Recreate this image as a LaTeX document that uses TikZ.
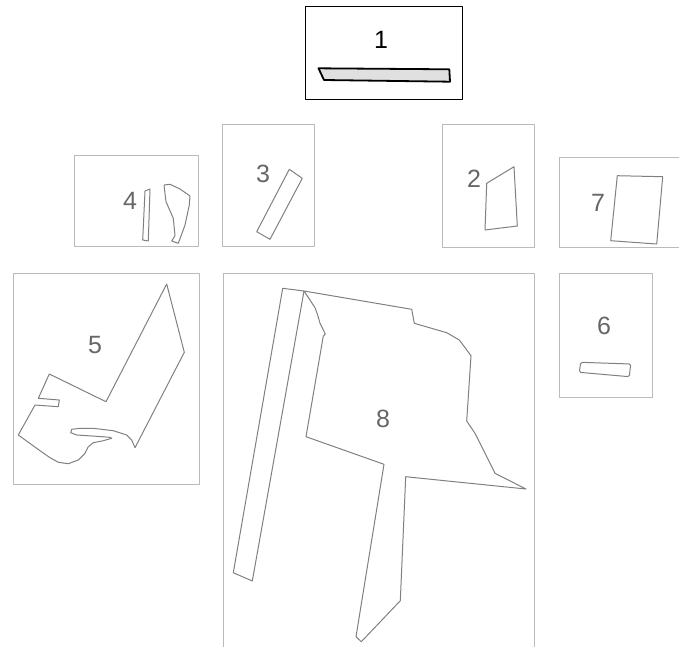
\documentclass[tikz,border=0pt]{standalone}
\usepackage{fontspec}
\setmainfont{Liberation Sans}
\usetikzlibrary{positioning}
\definecolor{boxgray}{HTML}{BBBBBB}
\definecolor{partgray}{HTML}{808080}
\definecolor{numgray}{HTML}{666666}
\begin{document}
\begin{tikzpicture}[x=1pt,y=-1pt,line join=round,
  frame/.style={draw=boxgray,line width=1pt},
  part/.style={draw=partgray,line width=1pt},
  num/.style={text=numgray,font=\fontsize{25}{30}\selectfont,inner sep=0pt}]
\useasboundingbox (0,0) rectangle (679,646);
\clip (0,0) rectangle (679,646);
% frames and numbers
\foreach \n/\xa/\ya/\xb/\yb/\lx/\ly in {3/222/124/314/246/263/174,4/74/155/198/246/130/201,2/442/124/534/247/474/179,7/559/157/700/247/598/203,5/13/273/199/484/95/345,8/223/273/534/700/383/419,6/559/273/652/397/604/326}
{
 \draw[frame] (\xa,\ya) rectangle (\xb,\yb);
 \node[num] (n\n) at (\lx,\ly) {\n};
}
% part 1 (selected)
\draw[line width=1pt] (305,6) rectangle (462,99);
\node[num,text=black] (n1) at (381,40) {1};
\draw[line width=1.8pt,fill=black!12] (318.5,68.3) -- (449.3,69.3) -- (450,81.7) -- (324,80) -- cycle;
% part 2
\draw[part] (486.7,183.3) -- (514,166.7) -- (517.3,226) -- (485,230) -- cycle;
% part 3
\draw[part] (256.7,231.7) -- (289.3,169.3) -- (302.3,178.3) -- (270,239.3) -- cycle;
% part 4
\draw[part] (142.7,240) -- (145,191) -- (150,189) -- (148.3,241) -- cycle;
\draw[part] (164,185) -- (170,184.3) -- (180,189) -- (190,196) -- (189.3,205) -- (185,225)
 -- (178.3,243.3) -- (171.7,241) -- (175,235.7) -- (173.3,218.3) -- (166,201.7) -- cycle;
% part 5
\draw[part] (166.7,284) -- (184.3,352.3) -- (135,447.7) -- (131.7,440) -- (126.7,435)
 -- (113.3,430.7) -- (93.3,428.3) -- (80,428.3) -- (71.7,429.3) -- (70.7,432.7) -- (76.7,435)
 -- (96.7,436.3) -- (110,437.3) -- (111.7,438.3) -- (103.3,440.7) -- (93.3,442.7) -- (88.3,446.7)
 -- (85,453.3) -- (78.3,460) -- (68.3,463.7) -- (58.3,462.3) -- (50,457.7) -- (40,450.7)
 -- (18.3,435) -- (35,405) -- (58.3,406.7) -- (59.3,400) -- (38.3,398.3) -- (49.3,374)
 -- (106,401.7) -- cycle;
% part 6
\draw[part,rounded corners=1.5pt] (580.7,362.3) -- (630.7,364) -- (629.3,376.7) -- (579.3,372.3) -- cycle;
% part 7
\draw[part] (617.3,175.7) -- (662.7,176.7) -- (656.7,244) -- (610.7,240.7) -- cycle;
% part 8
\draw[part] (282.7,288.3) -- (304,291) -- (252.3,581) -- (233.3,572.7) -- cycle;
\draw[part] (304,291) -- (411.7,309.3) -- (414.3,323.3) -- (446.7,332.7) -- (459.3,340)
 -- (471,355.7) -- (466.7,421) -- (475,433.3) -- (495,473.3) -- (526,489) -- (405.7,476.7)
 -- (400.3,600.7) -- (361.3,641.7) -- (356,636.7) -- (384,464.3) -- (306,436.7) -- (323.3,336)
 -- (325.3,334) -- (320,323.3) -- (317.7,315) -- (315,307.7) -- (310,300) -- cycle;
\end{tikzpicture}
\end{document}
